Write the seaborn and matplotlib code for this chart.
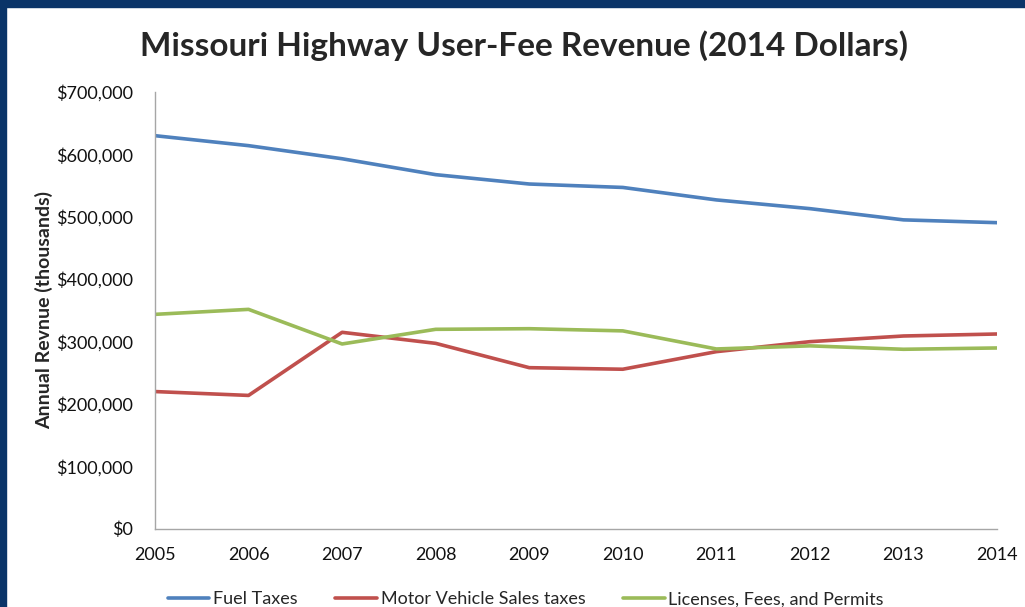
import pandas as pd
import matplotlib
matplotlib.use('Agg')
import matplotlib.pyplot as plt
import seaborn as sns
from matplotlib.patches import Rectangle
from matplotlib.ticker import FuncFormatter

# 데이터 (단위: 천 달러)
years = [2005, 2006, 2007, 2008, 2009, 2010, 2011, 2012, 2013, 2014]
fuel_taxes = [630000, 614000, 593000, 567500, 552500, 547000, 527000, 513000, 495000, 490500]
motor_vehicle = [219700, 213500, 314700, 297000, 258000, 255500, 283700, 299700, 308800, 312000]
licenses = [343500, 351500, 296000, 319500, 320500, 317000, 288000, 293000, 287500, 289600]

series_names = ['Fuel Taxes', 'Motor Vehicle Sales taxes', 'Licenses, Fees, and Permits']
colors = ['#4F81BD', '#C0504D', '#9BBB59']

df = pd.DataFrame({'year': years, series_names[0]: fuel_taxes,
                   series_names[1]: motor_vehicle, series_names[2]: licenses})
long_df = df.melt(id_vars='year', var_name='series', value_name='value')

sns.set_style('white')
plt.rcParams['font.family'] = ['Lato', 'DejaVu Sans']

fig = plt.figure(figsize=(10.25, 6.07), dpi=100)
ax = fig.add_axes([0.1512, 0.1292, 0.8215, 0.7192])

sns.lineplot(data=long_df, x='year', y='value', hue='series', hue_order=series_names,
             palette=dict(zip(series_names, colors)), linewidth=2.6, ax=ax, legend=False)

ax.set_xlim(2005, 2014)
ax.set_ylim(0, 700000)
ax.set_xticks(years)
ax.set_yticks(range(0, 700001, 100000))
ax.yaxis.set_major_formatter(FuncFormatter(lambda v, p: f'${v:,.0f}'))
ax.tick_params(axis='both', length=0, labelsize=13, labelcolor='#111111')
ax.tick_params(axis='y', pad=16)
ax.tick_params(axis='x', pad=13)
for s in ['top', 'right']:
    ax.spines[s].set_visible(False)
for s in ['left', 'bottom']:
    ax.spines[s].set_color('#A6A6A6')
    ax.spines[s].set_linewidth(1)

ax.set_xlabel('')
ax.set_ylabel('Annual Revnue (thousands)', fontsize=14, fontweight='bold', labelpad=2)

fig.text(0.511, 0.925, 'Missouri Highway User-Fee Revenue (2014 Dollars)',
         ha='center', va='center', fontsize=24, fontweight='bold')

handles = [plt.Line2D([], [], color=c, linewidth=2.6) for c in colors]
fig.legend(handles, series_names, loc='lower center', ncol=3, frameon=False,
           bbox_to_anchor=(0.513, -0.027), fontsize=13, handlelength=2.3,
           handletextpad=0.2, columnspacing=2.1)

# 네이비 테두리
border = '#0A3468'
fig.patches.append(Rectangle((0, 1 - 7 / 607), 1, 7 / 607, transform=fig.transFigure,
                             color=border, zorder=10))
fig.patches.append(Rectangle((0, 0), 6 / 1025, 1, transform=fig.transFigure,
                             color=border, zorder=10))

fig.savefig('out.png', dpi=100)
